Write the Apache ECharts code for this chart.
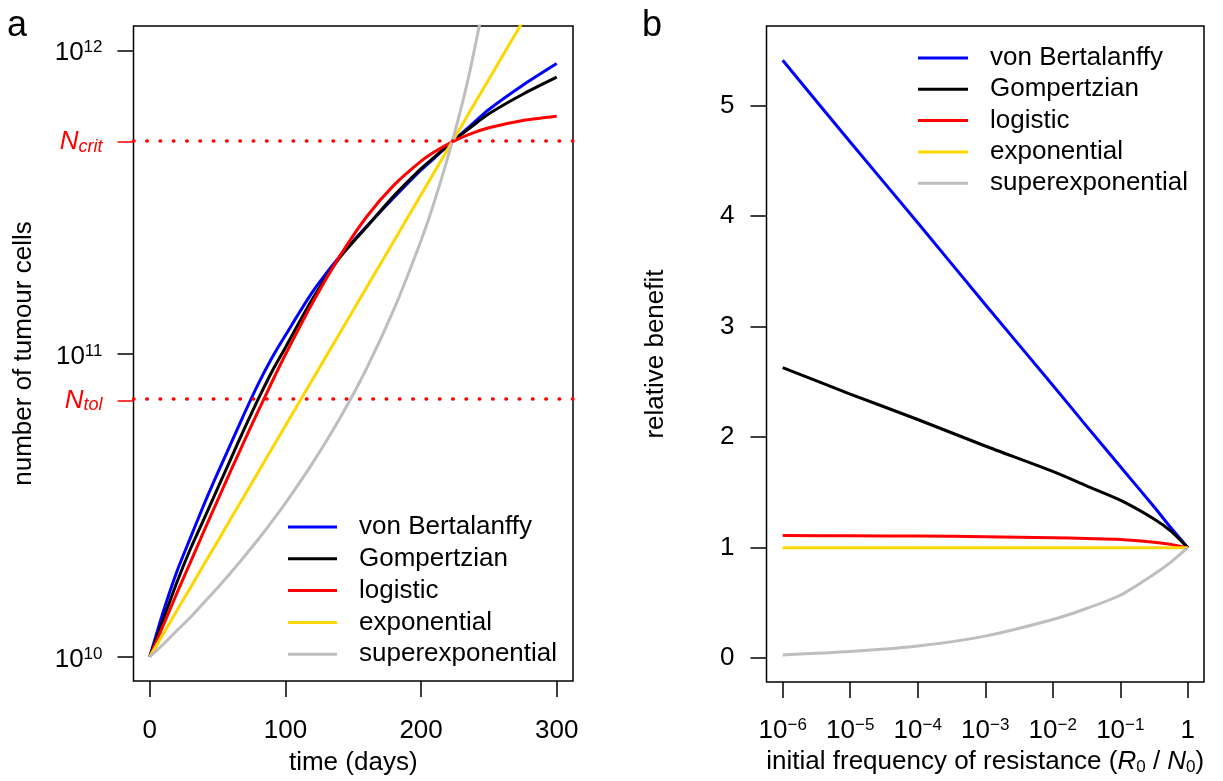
<!DOCTYPE html>
<html>
<head>
<meta charset="utf-8">
<title>tumour growth models</title>
<script src="https://cdn.jsdelivr.net/npm/echarts@6/dist/echarts.min.js"></script>
<style>
    html, body { margin: 0; padding: 0; background: #fff; }
    #chart { width: 1223px; height: 781px; }
</style>
</head>
<body>
<div id="chart"></div>
<script>
const FONT = '"Liberation Sans", Arial, Helvetica, sans-serif';

const modelNames = ['von Bertalanffy', 'Gompertzian', 'logistic', 'exponential', 'superexponential'];
const modelColors = ['#0000ff', '#000000', '#ff0000', '#ffd700', '#bebebe'];

// panel a: number of tumour cells over time (days)
const timeDays = [0, 10, 20, 30, 40, 50, 60, 70, 80, 90, 100, 120, 140, 160, 180, 200, 210, 223, 235, 250, 275, 300];
const cellsVonBertalanffy = [1e10, 1.41e10, 1.91e10, 2.47e10, 3.18e10, 4.03e10, 5.07e10, 6.38e10, 7.94e10, 9.66e10, 1.148e11, 1.596e11, 2.09e11, 2.63e11, 3.27e11, 4.03e11, 4.42e11, 5.0e11, 5.57e11, 6.38e11, 7.67e11, 9.04e11];
const cellsGompertzian = [1e10, 1.33e10, 1.76e10, 2.27e10, 2.85e10, 3.59e10, 4.52e10, 5.69e10, 7.08e10, 8.71e10, 1.047e11, 1.514e11, 2.07e11, 2.62e11, 3.31e11, 4.07e11, 4.45e11, 5.0e11, 5.50e11, 6.17e11, 7.16e11, 8.15e11];
const cellsLogistic = [1e10, 1.27e10, 1.62e10, 2.05e10, 2.60e10, 3.28e10, 4.13e10, 5.18e10, 6.47e10, 8.04e10, 9.92e10, 1.47e11, 2.09e11, 2.83e11, 3.59e11, 4.31e11, 4.63e11, 4.99e11, 5.27e11, 5.55e11, 5.87e11, 6.06e11];
const cellsExponential = [1e10, 1.19e10, 1.42e10, 1.69e10, 2.02e10, 2.40e10, 2.87e10, 3.41e10, 4.07e10, 4.85e10, 5.78e10, 8.21e10, 1.166e11, 1.656e11, 2.35e11, 3.34e11, 3.98e11, 5.0e11, 6.17e11, 8.03e11, 1.245e12, 1.93e12];
const cellsSuperexponential = [1e10, 1.10e10, 1.22e10, 1.35e10, 1.51e10, 1.69e10, 1.90e10, 2.15e10, 2.44e10, 2.79e10, 3.21e10, 4.35e10, 6.10e10, 8.96e10, 1.40e11, 2.36e11, 3.19e11, 5.0e11, 8.15e11, 1.73e12, null, null];
const growthCurves = [cellsVonBertalanffy, cellsGompertzian, cellsLogistic, cellsExponential, cellsSuperexponential];

const timeTicks = [0, 100, 200, 300];
const cellTickExponents = [10, 11, 12];
const thresholdNames = ['tol', 'crit'];
const thresholdCells = [7e10, 5e11];

// panel b: relative benefit against initial frequency of resistance
const resistFreq = [1e-6, 1e-5, 1e-4, 1e-3, 1e-2, 0.0316, 0.1, 0.316, 0.562, 1];
const benefitVonBertalanffy = [5.41, 4.67, 3.94, 3.20, 2.47, 2.10, 1.735, 1.37, 1.18, 1.0];
const benefitGompertzian = [2.63, 2.39, 2.16, 1.92, 1.69, 1.56, 1.43, 1.26, 1.15, 1.0];
const benefitLogistic = [1.11, 1.108, 1.105, 1.10, 1.09, 1.083, 1.075, 1.05, 1.03, 1.0];
const benefitExponential = [1.0, 1.0, 1.0, 1.0, 1.0, 1.0, 1.0, 1.0, 1.0, 1.0];
const benefitSuperexponential = [0.03, 0.06, 0.11, 0.20, 0.35, 0.45, 0.57, 0.76, 0.87, 1.0];
const benefitCurves = [benefitVonBertalanffy, benefitGompertzian, benefitLogistic, benefitExponential, benefitSuperexponential];

const freqTickExponents = [-6, -5, -4, -3, -2, -1, 0];
const benefitTicks = [0, 1, 2, 3, 4, 5];


window.onload = function () {
    let chart = echarts.init(document.getElementById('chart'), null, {renderer: 'canvas'});

    // rich styles for 10^x and N_sub labels
    let powRich = {
        b: {fontSize: 26, lineHeight: 28, fontFamily: FONT, color: '#000', verticalAlign: 'middle'},
        s: {fontSize: 17, lineHeight: 16, fontFamily: FONT, color: '#000', verticalAlign: 'top'}
    };
    let redRich = {
        n: {fontSize: 26, lineHeight: 28, fontFamily: FONT, color: '#ff0000', fontStyle: 'italic', verticalAlign: 'middle'},
        sub: {fontSize: 18, lineHeight: 13, fontFamily: FONT, color: '#ff0000', fontStyle: 'italic', verticalAlign: 'bottom'}
    };
    let titleRich = {
        t: {fontSize: 26, lineHeight: 28, fontFamily: FONT, color: '#000', verticalAlign: 'middle'},
        i: {fontSize: 26, lineHeight: 28, fontFamily: FONT, color: '#000', fontStyle: 'italic', verticalAlign: 'middle'},
        sub: {fontSize: 17, lineHeight: 14, fontFamily: FONT, color: '#000', verticalAlign: 'bottom'}
    };

    let tick = {show: true, length: 16, lineStyle: {color: '#000', width: 1.5}};
    let noLine = {show: false, onZero: false};

    let series = [];

    // dotted threshold lines (N_tol, N_crit)
    series.push({
        type: 'line', xAxisIndex: 0, yAxisIndex: 0, data: [], silent: true,
        markLine: {
            silent: true, symbol: ['none', 'none'], label: {show: false},
            lineStyle: {color: '#ff0000', width: 3.5, type: [0.5, 12.8], cap: 'round'},
            emphasis: {disabled: true},
            data: thresholdCells.map(function (v) { return {yAxis: Math.log10(v)}; })
        }
    });

    modelNames.forEach(function (name, k) {
        let pts = [];
        timeDays.forEach(function (t, i) {
            if (growthCurves[k][i] != null) pts.push([t, Math.log10(growthCurves[k][i])]);
        });
        series.push({
            name: name, type: 'line', xAxisIndex: 0, yAxisIndex: 0,
            symbol: 'none', smooth: 0.25, clip: true,
            lineStyle: {color: modelColors[k], width: 3, join: 'round'},
            itemStyle: {color: modelColors[k]},
            data: pts
        });
    });

    modelNames.forEach(function (name, k) {
        series.push({
            name: name, type: 'line', xAxisIndex: 1, yAxisIndex: 2,
            symbol: 'none', smooth: 0.25,
            lineStyle: {color: modelColors[k], width: 3, join: 'round'},
            itemStyle: {color: modelColors[k]},
            data: resistFreq.map(function (f, i) { return [Math.log10(f), benefitCurves[k][i]]; })
        });
    });

    let legendBase = {
        orient: 'vertical', padding: 0, icon: 'rect', itemWidth: 49, itemHeight: 3,
        selectedMode: false, data: modelNames,
        textStyle: {fontSize: 26, lineHeight: 26, fontFamily: FONT, color: '#000', padding: [0, 0, 0, 17]}
    };

    let option = {
        animation: false,
        backgroundColor: '#fff',
        textStyle: {fontFamily: FONT},
        title: [
            {text: 'a', left: 7, top: 8, padding: 0, textStyle: {fontSize: 36, fontWeight: 'normal', color: '#000', fontFamily: FONT}},
            {text: 'b', left: 642, top: 8, padding: 0, textStyle: {fontSize: 36, fontWeight: 'normal', color: '#000', fontFamily: FONT}}
        ],
        legend: [
            Object.assign({}, legendBase, {left: 288, top: 514, itemGap: 5.8}),
            Object.assign({}, legendBase, {left: 918, top: 45, itemGap: 5.3, itemWidth: 50})
        ],
        grid: [
            {left: 133.5, right: 650, top: 26, bottom: 96, show: true, borderColor: '#000', borderWidth: 1.5, backgroundColor: '#fff'},
            {left: 766.5, right: 19, top: 26, bottom: 96, show: true, borderColor: '#000', borderWidth: 1.5, backgroundColor: '#fff'}
        ],
        xAxis: [
            {
                type: 'value', gridIndex: 0, min: -12, max: 312,
                axisLine: noLine, splitLine: {show: false},
                axisTick: Object.assign({customValues: timeTicks}, tick),
                axisLabel: {customValues: timeTicks, margin: 36, fontSize: 26, lineHeight: 28, color: '#000', fontFamily: FONT},
                name: 'time (days)', nameLocation: 'middle', nameGap: 69,
                nameTextStyle: {fontSize: 26, color: '#000', fontFamily: FONT}
            },
            {
                type: 'value', gridIndex: 1, min: -6.24, max: 0.24,
                axisLine: noLine, splitLine: {show: false},
                axisTick: Object.assign({customValues: freqTickExponents}, tick),
                axisLabel: {
                    customValues: freqTickExponents, margin: 35, rich: powRich,
                    formatter: function (v) {
                        let e = Math.round(v);
                        return e === 0 ? '{b|1}' : '{b|10}{s|\u2212' + (-e) + '}';
                    }
                },
                name: '{t|initial frequency of resistance (}{i|R}{sub|0}{t| / }{i|N}{sub|0}{t|)}',
                nameLocation: 'middle', nameGap: 61,
                nameTextStyle: {rich: titleRich}
            }
        ],
        yAxis: [
            {
                type: 'value', gridIndex: 0, position: 'left', min: 9.92, max: 12.08,
                axisLine: noLine, splitLine: {show: false},
                axisTick: Object.assign({customValues: cellTickExponents}, tick),
                axisLabel: {
                    customValues: cellTickExponents, margin: 31, rich: powRich, padding: [6, 0, 0, 0],
                    formatter: function (v) { return '{b|10}{s|' + Math.round(v) + '}'; }
                },
                name: 'number of tumour cells', nameLocation: 'middle', nameGap: 97,
                nameTextStyle: {fontSize: 26, color: '#000', fontFamily: FONT}
            },
            {
                type: 'value', gridIndex: 0, position: 'left', min: 9.92, max: 12.08,
                axisLine: noLine, splitLine: {show: false},
                axisTick: {show: true, length: 16, customValues: thresholdCells.map(Math.log10), lineStyle: {color: '#ff0000', width: 1.5}},
                axisLabel: {
                    customValues: thresholdCells.map(Math.log10), margin: 31, rich: redRich,
                    formatter: function (v) {
                        let k = v > 11 ? 1 : 0;
                        return '{n|N}{sub|' + thresholdNames[k] + '}';
                    }
                }
            },
            {
                type: 'value', gridIndex: 1, position: 'left', min: -0.216, max: 5.72,
                axisLine: noLine, splitLine: {show: false},
                axisTick: Object.assign({customValues: benefitTicks}, tick),
                axisLabel: {customValues: benefitTicks, margin: 32, fontSize: 26, color: '#000', fontFamily: FONT},
                name: 'relative benefit', nameLocation: 'middle', nameGap: 98,
                nameTextStyle: {fontSize: 26, color: '#000', fontFamily: FONT}
            }
        ],
        series: series
    };

    chart.setOption(option);
};
</script>
</body>
</html>
